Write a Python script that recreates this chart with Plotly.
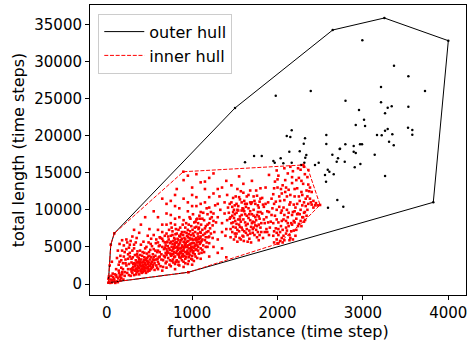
import plotly.graph_objects as go

# ---------------- data ----------------
outer_hull_x = [19, 47, 89, 1502, 2646, 3251, 4000, 3824, 955, 19]
outer_hull_y = [175, 5300, 6830, 23720, 34230, 35850, 32790, 11010, 1577, 175]

inner_hull_x = [19, 47, 89, 897, 2302, 2361, 2498, 2323, 2009, 955, 19]
inner_hull_y = [175, 5300, 6830, 15130, 16040, 15360, 10650, 8630, 5450, 1577, 175]

black_pts = [
    (1502, 23720), (2646, 34230), (3251, 35850), (4000, 32790), (3824, 11010),
    (1979, 25380), (2389, 26010), (2796, 24700), (2993, 32840), (3364, 29420),
    (3532, 27990), (3212, 26550), (3727, 26010), (3212, 24490), (3337, 23950),
    (3290, 23760), (3532, 23890), (2954, 23450), (3259, 23010), (3013, 22140),
    (2916, 21430), (3025, 21290), (3290, 20890), (3259, 20660), (3528, 21060),
    (3578, 20750), (3578, 20120), (3165, 20080), (3220, 20040), (3344, 20170),
    (3306, 19180), (3361, 18690), (2794, 18830), (2892, 18600), (2966, 18830),
    (2989, 18830), (2732, 18230), (2892, 17830), (2916, 17650), (3138, 17430),
    (2787, 16480), (2970, 16170), (2904, 15730), (3259, 14560), (2770, 10420),
    (2166, 20710), (2108, 19950), (2150, 19810), (2322, 19640), (2571, 20080),
    (2307, 18910), (2571, 18870), (2728, 18190), (2138, 17830), (2260, 17880),
    (1725, 17250), (1815, 17250), (2037, 16940), (2337, 17390), (2325, 17020),
    (2642, 17430), (2708, 16940), (2693, 16480), (1951, 16580), (1967, 16350),
    (2166, 16350), (2314, 16350), (2482, 16350), (2439, 16040), (1619, 16400),
    (2588, 15400), (2607, 15130), (2556, 14690), (2658, 14780), (2568, 13790),
    (2700, 11320), (2591, 10280), (2068, 16270), (2275, 16040),
]

red_origin = [
    (19, 175), (47, 5300), (89, 6830), (955, 1577), (897, 15130), (2302, 16040),
    (2361, 15360), (2498, 10650), (2323, 8630), (2009, 5450),
    (30, 300), (45, 600), (60, 200), (75, 900), (90, 450), (110, 1200), (120, 350),
    (135, 750), (150, 1000), (70, 1400), (25, 1000), (100, 150), (160, 500),
    (180, 1300), (55, 1100), (85, 700), (130, 250), (170, 850), (40, 150),
    (115, 950), (195, 600), (65, 500), (145, 1450), (95, 1300), (20, 700),
    (60, 3000), (35, 2500),
]

red_left = [
    (210, 1600), (230, 2500), (250, 3400), (260, 1200), (270, 4200), (280, 2000),
    (290, 2900), (300, 1500), (305, 3600), (310, 2300), (320, 4800), (330, 1800),
    (335, 2700), (340, 3200), (345, 1300), (350, 2100), (355, 4000), (360, 2500),
    (365, 3000), (370, 1700), (375, 3500), (380, 2200), (385, 2800), (390, 4500),
    (395, 1900), (400, 2400), (405, 3300), (410, 2000), (415, 3800), (420, 2600),
    (425, 1600), (430, 3000), (435, 2300), (440, 4200), (445, 2800), (450, 1800),
    (455, 3400), (460, 2500), (465, 5000), (470, 2100), (475, 3100), (480, 2700),
    (485, 3700), (490, 2000), (495, 4300), (500, 2900), (505, 3300), (510, 2400),
    (515, 5400), (520, 3600), (525, 2200), (530, 3000), (540, 4000), (545, 2600),
    (550, 4700), (555, 3200), (560, 2800), (570, 3800), (575, 5500), (580, 2500),
    (590, 4300), (595, 3400), (600, 3000), (610, 5100), (620, 3700),
    (160, 3800), (180, 4500), (200, 5200), (220, 3300), (240, 5600), (190, 2800),
    (170, 2200), (230, 6000), (260, 4900), (210, 4300), (150, 3000), (280, 5800),
    (300, 6400), (250, 2000), (140, 1800), (180, 1600), (270, 3700), (320, 5300),
    (350, 6200),
    (330, 2400), (350, 2900), (370, 2300), (390, 2600), (410, 2900), (430, 2500),
    (450, 2200), (360, 1900), (380, 3300), (400, 1700), (420, 2100), (440, 3600),
    (460, 3200), (480, 1700), (500, 2500), (340, 2000), (390, 3000), (410, 2400),
    (450, 2700), (470, 3500), (320, 2800), (300, 2100), (290, 1700), (310, 1900),
    (360, 3700), (440, 1900), (520, 2700), (540, 3300), (480, 2300), (500, 3800),
    (110, 2000), (120, 3500), (130, 4500), (140, 2600), (150, 5400), (160, 1200),
    (170, 3200), (180, 5900), (190, 2000), (200, 3700), (210, 1100), (220, 2800),
    (230, 4700), (240, 1500), (250, 4000), (260, 2700), (270, 5300), (280, 1100),
    (290, 3400), (300, 4500), (310, 2700), (320, 1200), (330, 3900), (340, 5600),
    (350, 1600), (360, 4400), (370, 2900), (380, 1300), (390, 3900), (400, 5300),
    (410, 1500), (420, 4300), (430, 1900), (440, 3200), (450, 4800), (460, 1500),
    (470, 4100), (480, 3000), (490, 5600), (500, 1800), (510, 4600), (520, 2000),
    (530, 5100), (540, 2300), (550, 3600), (560, 1900), (570, 4500), (580, 3300),
    (590, 2200), (600, 5600), (610, 2700), (620, 4300), (630, 6200), (640, 3300),
    (650, 5000), (660, 2300), (670, 3800), (680, 6500), (690, 4200), (700, 3000),
]

red_core = [
    (600, 4500), (610, 3600), (620, 5200), (630, 2400), (640, 4000), (650, 6100),
    (660, 3200), (670, 4700), (680, 5600), (690, 2800), (700, 3900), (700, 6800),
    (710, 4400), (715, 5100), (720, 3500), (725, 6000), (730, 4800), (735, 2600),
    (740, 5500), (745, 4100), (750, 6500), (755, 3800), (760, 5000), (765, 4500),
    (770, 7100), (775, 3300), (780, 5800), (785, 4300), (790, 6200), (795, 5300),
    (800, 3700), (800, 4900), (805, 6700), (810, 4200), (815, 5600), (820, 3200),
    (825, 5000), (830, 6100), (835, 4600), (840, 7300), (845, 3900), (850, 5400),
    (855, 4800), (860, 6400), (865, 3500), (870, 5900), (875, 4400), (880, 7000),
    (885, 5200), (890, 4000), (895, 6600), (900, 5700), (900, 3000), (905, 4900),
    (910, 6200), (915, 4300), (920, 7600), (925, 5500), (930, 3600), (935, 6900),
    (940, 5000), (945, 4500), (950, 6300), (955, 5800), (960, 8000), (965, 4100),
    (970, 5300), (975, 7100), (980, 6000), (985, 4700), (990, 6600), (995, 5500),
    (1000, 3800), (1005, 7300), (1010, 5900), (1015, 4400), (1020, 6500),
    (1025, 8300), (1030, 5100), (1035, 7000), (1040, 4600), (1045, 6200),
    (1050, 7700), (1055, 5600), (1060, 8800), (1065, 6800), (1070, 5000),
    (1075, 7400), (1080, 6100), (1085, 9200), (1090, 5400), (1095, 7000),
    (1100, 6400), (1105, 8000), (1110, 5800), (1120, 7300), (1130, 6600),
    (1140, 8600), (1150, 5900), (1160, 7800), (1170, 7000), (1180, 9400),
    (1190, 6300), (1200, 8200), (1210, 7500), (1220, 6800), (1230, 9000),
    (1240, 7900), (1250, 8500),
    (760, 4000), (780, 4700), (800, 5500), (820, 4400), (840, 5200), (860, 4300),
    (880, 5000), (900, 4600), (920, 5300), (940, 4000), (960, 4800), (980, 5400),
    (1000, 5000), (1020, 5500), (1040, 5300), (1060, 6000), (1080, 5700),
    (1000, 6100), (960, 6700), (920, 6000), (880, 6100), (840, 5900), (800, 6000),
    (780, 4000), (820, 5600), (860, 5600), (900, 5000), (940, 5700), (980, 4400),
    (1020, 4900), (1060, 5200), (1100, 6900), (1120, 6000), (830, 4000),
    (870, 4800), (910, 5600), (950, 5200), (990, 5000), (1030, 6000), (1070, 6400),
    (850, 3600), (890, 3700), (930, 4300), (970, 3900), (1010, 4200), (1050, 4700),
    (750, 3900), (790, 3600), (810, 3000), (850, 4100), (890, 4500), (930, 5000),
    (970, 6200), (1010, 6800), (1050, 5900), (1090, 6200), (870, 6700), (910, 7000),
    (950, 7300), (990, 7800), (1030, 7600), (1070, 8200), (770, 5400), (740, 4600),
    (720, 4200), (700, 4700), (690, 5200), (680, 3600), (760, 3100), (800, 2700),
    (840, 3000), (880, 3200), (920, 3400), (960, 3100), (1000, 3300), (1040, 3700),
    (1080, 4100), (1120, 4600), (1160, 5000), (1150, 6800), (1190, 7100),
    (1170, 5600), (1130, 5200), (1100, 4800),
    (700, 9500), (750, 8200), (800, 10500), (850, 9000), (900, 11500), (950, 9800),
    (1000, 12000), (1050, 10500), (1100, 9700), (1150, 11000), (650, 8000),
    (600, 7300), (550, 6600), (1200, 10300), (1250, 12200), (1300, 10800),
    (1000, 13000), (900, 14000), (820, 12800), (1100, 13700), (1200, 14300),
    (750, 11200), (1150, 12800),
    (600, 2000), (650, 1800), (700, 2200), (750, 2400), (800, 2000), (850, 2500),
    (900, 2300), (950, 2700), (1000, 2600), (1100, 3400), (1200, 3700),
    (1300, 4200), (1250, 5000), (1350, 4800), (1400, 3600), (1300, 6000),
    (1350, 7000),
    (660, 5800), (680, 4900), (700, 5600), (720, 6400), (740, 3200), (760, 7600),
    (780, 2900), (800, 8000), (820, 6800), (840, 2600), (860, 7600), (880, 3800),
    (900, 8600), (920, 2800), (940, 6500), (960, 3600), (980, 8800), (1000, 4600),
    (1020, 3100), (1040, 8400), (1060, 3500), (1080, 7600), (1100, 5600),
    (1120, 8800), (1140, 4300), (1160, 6300), (1180, 8000), (1200, 5500),
    (1220, 9700), (1240, 6200), (1260, 7000), (1280, 8300), (1200, 6400),
    (1180, 5000), (1150, 7500), (1110, 4200), (1070, 4500), (1030, 4000),
    (990, 3400), (950, 4200), (910, 3800), (870, 4200), (830, 4800), (790, 5000),
    (750, 5700), (710, 5700), (730, 7300), (770, 6600), (810, 7400), (850, 6500),
    (890, 8000), (930, 8200), (970, 9000), (1010, 9400), (1050, 8700), (1090, 8800),
    (1130, 9600), (1170, 10200), (1210, 8800), (1250, 9500), (1270, 10600),
    (1100, 10800), (1000, 10500), (950, 11000), (850, 10200), (800, 8800),
    (750, 9300), (700, 8000), (650, 7000), (620, 6300), (580, 6000), (520, 6100),
    (480, 6500), (430, 5700), (380, 6900), (320, 7300), (400, 8000), (500, 7400),
    (600, 9000), (700, 10800), (800, 12000), (650, 11500), (550, 9800), (450, 9000),
    (1050, 11700), (1150, 13800), (1200, 11700), (1300, 12800), (950, 14600),
    (1050, 14800), (1250, 14900), (1350, 13000),
]

red_mid = [
    (1350, 8200), (1380, 9500), (1400, 7400), (1420, 10300), (1440, 8800),
    (1450, 6300), (1460, 11000), (1470, 9200), (1480, 7700), (1490, 10000),
    (1500, 6800), (1505, 8500), (1510, 11800), (1520, 9600), (1530, 7300),
    (1540, 10500), (1550, 8000), (1555, 6200), (1560, 9100), (1570, 12500),
    (1580, 7600), (1590, 10200), (1600, 8700), (1605, 5800), (1610, 11200),
    (1620, 9400), (1630, 6900), (1640, 10800), (1650, 8100), (1660, 12000),
    (1670, 7200), (1680, 9800), (1690, 5600), (1700, 11000), (1710, 8400),
    (1720, 10000), (1730, 6600), (1740, 9000), (1750, 12600), (1760, 7800),
    (1770, 10600), (1780, 5900), (1790, 8800), (1800, 11500), (1810, 7000),
    (1820, 9500), (1830, 6200), (1840, 10400), (1850, 8200), (1860, 13000),
    (1870, 7400), (1880, 9800), (1890, 11000), (1900, 6600),
    (1450, 9000), (1480, 8300), (1500, 9400), (1520, 8100), (1540, 9900),
    (1560, 8700), (1580, 9900), (1600, 10100), (1620, 8300), (1640, 9200),
    (1660, 8900), (1680, 11000), (1700, 9400), (1720, 7600), (1740, 10800),
    (1760, 9300), (1780, 8000), (1800, 9700), (1470, 7000), (1510, 7600),
    (1550, 7100), (1590, 6500), (1630, 7900), (1670, 6100), (1710, 6900),
    (1750, 7300), (1790, 6600), (1490, 6000), (1530, 5700), (1570, 6000),
    (1610, 7100), (1650, 5700), (1690, 7700), (1730, 8300), (1770, 7000),
    (1440, 10800), (1480, 11600), (1520, 10800), (1560, 11400), (1600, 12300),
    (1640, 11800), (1680, 12600), (1720, 11800), (1760, 11900), (1530, 12800),
    (1410, 12000), (1380, 11000), (1330, 10000), (1300, 9000), (1320, 11800),
    (1460, 13300), (1600, 13500), (1700, 13900), (1550, 14500), (1400, 13900),
    (1800, 12900),
    (1390, 6500), (1410, 8600), (1430, 9600), (1450, 7400), (1470, 10400),
    (1490, 8900), (1510, 6400), (1530, 10000), (1550, 11700), (1570, 8400),
    (1590, 7300), (1610, 9800), (1630, 10400), (1650, 6600), (1670, 9400),
    (1690, 10800), (1710, 7400), (1730, 11200), (1750, 8600), (1770, 9700),
    (1790, 11100), (1810, 8200), (1830, 10700), (1850, 7000), (1870, 9000),
    (1890, 8300), (1520, 6800), (1560, 7700), (1600, 6400), (1640, 7400),
    (1680, 6800), (1720, 9200), (1760, 6300), (1800, 7600), (1840, 8700),
    (1880, 7000), (1460, 8200), (1500, 10600), (1540, 8700), (1580, 11000),
    (1620, 10800), (1660, 10200), (1700, 8200), (1740, 7900), (1780, 10300),
    (1820, 11600), (1860, 10800), (1900, 9700), (1480, 9700), (1580, 9300),
    (1680, 8600), (1780, 9100),
]

red_right = [
    (1920, 8400), (1940, 10200), (1950, 12100), (1960, 7100), (1970, 9200),
    (1980, 11100), (1990, 6000), (2000, 13000), (2010, 8300), (2020, 10400),
    (2030, 7000), (2040, 9600), (2050, 12200), (2060, 5600), (2070, 8700),
    (2080, 11300), (2090, 14000), (2100, 7600), (2110, 10000), (2120, 9000),
    (2130, 12700), (2140, 6600), (2150, 11000), (2160, 8200), (2170, 13600),
    (2180, 9700), (2190, 7200), (2200, 11800), (2210, 10300), (2220, 8800),
    (2230, 12900), (2240, 9500), (2250, 14300), (2260, 11200), (2270, 10000),
    (2280, 12400), (2290, 9000), (2300, 13500), (2310, 11000), (2320, 14800),
    (2330, 10500), (2340, 12600), (2350, 11800), (2360, 10800), (2380, 11500),
    (2400, 10700), (2420, 11200), (2440, 10600),
    (1930, 9300), (1960, 10800), (1990, 8700), (2020, 11800), (2050, 9900),
    (2080, 9300), (2110, 11800), (2140, 10700), (2170, 9300), (2200, 9800),
    (2230, 10800), (2260, 9400), (2290, 10600), (2320, 9700), (1950, 6500),
    (1980, 7500), (2010, 6600), (2040, 7800), (2070, 6500), (2100, 8500),
    (2130, 7800), (2160, 7100), (2190, 8500), (2220, 7300), (2250, 8100),
    (2280, 7800), (2310, 8400), (2340, 9200), (2010, 14600), (2060, 13300),
    (2120, 14900), (2180, 15200), (2220, 14000), (2270, 15400), (2310, 15800),
    (2150, 15800), (1990, 15300), (1900, 14700), (2000, 5500), (2050, 6200),
    (2100, 6800), (2150, 6200), (2180, 6000), (1960, 12900), (2040, 12800),
    (2100, 13000), (2200, 12800), (2280, 13900), (2360, 13400), (2400, 12400),
    (1910, 7600), (1930, 11500), (1950, 8200), (1970, 13800), (1990, 10000),
    (2010, 7400), (2030, 11200), (2050, 8500), (2070, 10300), (2090, 12400),
    (2110, 7200), (2130, 9600), (2150, 12000), (2170, 8000), (2190, 10700),
    (2210, 6500), (2230, 9400), (2250, 11800), (2270, 8500), (2290, 12000),
    (2310, 9600), (2330, 11500), (2350, 10000), (2370, 12500), (2390, 11000),
    (2420, 10300), (2450, 10900), (2470, 10600), (2140, 5900), (2080, 5900),
    (2030, 5800), (1960, 5600), (2240, 7800), (2300, 9000), (2200, 8300),
    (2120, 8200), (2060, 7300), (1990, 6900), (2170, 14400), (2240, 15600),
    (2080, 15600), (2000, 14100), (2350, 14400), (2380, 13000),
]

x_ticks = [0, 1000, 2000, 3000, 4000]
y_ticks = [0, 5000, 10000, 15000, 20000, 25000, 30000, 35000]
x_tick_labels = ["0", "1000", "2000", "3000", "4000"]
y_tick_labels = ["0", "5000", "10000", "15000", "20000", "25000", "30000", "35000"]

red_pts = red_origin + red_left + red_core + red_mid + red_right
red_x = [p[0] for p in red_pts]
red_y = [p[1] for p in red_pts]
black_x = [p[0] for p in black_pts]
black_y = [p[1] for p in black_pts]

FONT = "DejaVu Sans"

fig = go.Figure()
fig.add_trace(go.Scatter(x=black_x, y=black_y, mode="markers",
                         marker=dict(color="black", size=2.5, line=dict(width=0)),
                         showlegend=False, hoverinfo="skip"))
fig.add_trace(go.Scatter(x=red_x, y=red_y, mode="markers",
                         marker=dict(color="red", size=2.6, symbol="square", line=dict(width=0)),
                         showlegend=False, hoverinfo="skip"))
fig.add_trace(go.Scatter(x=outer_hull_x, y=outer_hull_y, mode="lines",
                         line=dict(color="black", width=1), name="outer hull"))
fig.add_trace(go.Scatter(x=inner_hull_x, y=inner_hull_y, mode="lines",
                         line=dict(color="red", width=1, dash="4px,1.7px"), name="inner hull"))

axis_common = dict(showline=True, linecolor="black", linewidth=1, mirror=True,
                   ticks="outside", ticklen=4, tickwidth=1, tickcolor="black",
                   showgrid=False, zeroline=False,
                   tickfont=dict(family=FONT, size=15, color="black"))

fig.update_layout(
    width=470, height=343,
    margin=dict(l=90, r=4, t=5, b=48),
    paper_bgcolor="white", plot_bgcolor="white",
    font=dict(family=FONT, size=15, color="black"),
    xaxis=dict(range=[-196, 4207], tickvals=x_ticks, ticktext=x_tick_labels,
               title=dict(text="further distance (time step)", font=dict(family=FONT, size=16), standoff=3),
               **axis_common),
    yaxis=dict(range=[-1482, 37600], tickvals=y_ticks, ticktext=y_tick_labels,
               title=dict(text="total length (time steps)", font=dict(family=FONT, size=16), standoff=5),
               **axis_common),
    legend=dict(x=0.022, y=0.97, xanchor="left", yanchor="top",
                bgcolor="rgba(255,255,255,0.8)", bordercolor="#cccccc", borderwidth=1,
                font=dict(family=FONT, size=16), itemwidth=40, tracegroupgap=0),
)

fig.write_html("out.html")
